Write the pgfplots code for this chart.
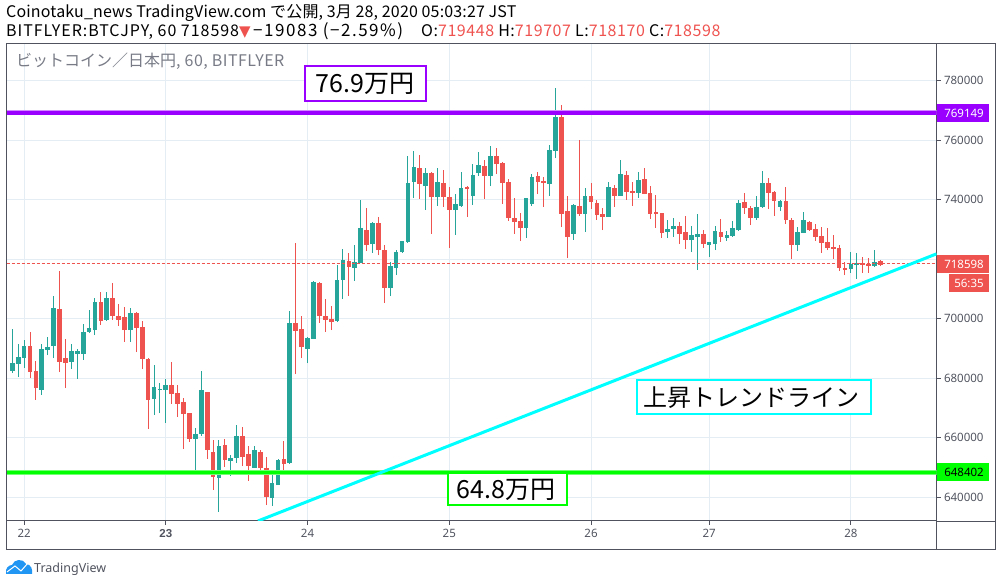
\documentclass[border=0pt]{standalone}
\usepackage{fontspec}
\setmainfont{Noto Sans}
\newfontfamily\jp{Noto Sans CJK JP}
\newfontfamily\djv{DejaVu Sans}
\newfontfamily\nsb{Liberation Sans}
\usepackage{pgfplots}
\usepackage{pgfplotstable}
\pgfplotsset{compat=1.18}
\definecolor{upc}{HTML}{26A69A}
\definecolor{dnc}{HTML}{EF5350}
\definecolor{gridc}{HTML}{E3EDF3}
\definecolor{axc}{HTML}{50535E}
\definecolor{lbl}{HTML}{787B86}
\definecolor{pur}{HTML}{9900FF}
\definecolor{grn}{HTML}{00FF00}
\definecolor{cya}{HTML}{00FFFF}
\definecolor{tv}{HTML}{2196F3}
\pgfplotstableread{
k hi lo bh bl
0 696600 681800 685100 682500
1 691500 680400 687200 684800
2 692900 683500 690900 686800
5 691500 674400 689900 676100
6 693900 687800 690500 689500
7 707700 686800 703600 690900
10 691500 683100 689200 685500
11 689900 679800 689200 688200
12 698300 686200 695600 688200
13 703000 695200 696900 695600
14 707000 694500 705600 696200
16 709000 699300 707000 699600
20 703600 692200 702000 696200
24 684500 667700 677100 673000
25 678400 668300 676400 676100
26 679800 665000 677800 676100
31 663300 648800 661300 659600
32 682500 660600 676100 661300
35 659200 635100 657200 646500
37 654200 647200 653200 652200
38 664300 651500 660600 653200
41 657200 649900 655900 649900
44 649200 637100 644800 639800
45 652900 644100 652500 644100
47 702600 651200 698600 651500
50 693900 685100 693500 689800
51 712700 693200 712400 693200
55 718100 698900 713000 699200
56 723400 706600 719700 713000
58 724800 712700 719100 717100
59 739900 718700 730500 718700
61 732500 722100 732200 725100
64 719100 707600 717700 710300
65 723100 714700 722400 717100
66 726100 722100 726100 722400
67 754700 725500 745600 725800
68 756400 740600 751000 746000
70 750700 736600 749000 744600
72 750700 737900 746000 740900
75 741900 728200 738600 736600
76 749300 737600 744000 737900
78 752000 738300 748300 741300
79 756100 748000 751700 749000
81 758100 744600 754700 748000
87 740600 727200 740600 730500
88 748700 737900 747700 738600
91 758400 741300 756700 745300
92 777600 754000 767800 756400
95 738600 726500 738300 728500
97 743900 729200 741300 735200
101 746000 734200 744300 734200
103 753400 741300 748700 741300
106 749300 740600 746600 742300
111 733200 727200 730200 729200
112 733900 727500 731200 730200
115 731200 722400 728200 726500
116 735200 716400 728500 727500
118 725800 720800 725800 724800
119 731200 723100 729500 725100
121 729500 726200 728200 727200
122 732900 727500 730500 727800
123 739900 729500 738900 729800
126 741300 733200 737600 733900
127 749700 737200 745600 737600
130 739900 736200 739600 737600
133 730900 722800 729200 724800
134 735900 728800 733200 728800
142 722500 715400 718400 716700
143 722100 713400 718700 718100
146 723100 717400 719100 717700
}\upt
\pgfplotstableread{
k hi lo bh bl
3 695600 680100 690900 682100
4 685800 672700 682500 676700
8 716100 682100 703300 685500
9 693200 676700 686800 685100
15 709000 697900 705600 699300
17 712000 699600 707000 701000
18 705000 697600 701000 699600
19 704000 692200 700600 696200
21 702300 688800 702000 696900
22 699300 683100 697200 686500
23 686800 663000 686500 672700
27 685500 671400 677800 674700
28 677800 667000 675100 671400
29 673400 656200 672000 668000
30 668300 658600 668300 659600
33 675400 652900 675400 655900
34 659200 642500 655200 646800
36 659600 650200 657600 652500
39 663600 650500 660600 653500
40 657200 645500 654600 650500
42 655900 648800 655200 649900
43 653500 637400 649900 640100
46 658900 648800 652900 651200
48 725500 681400 698600 695900
49 700900 686800 696600 690500
52 712400 698600 712000 700900
53 706600 695600 700900 699600
54 704300 696200 699900 698900
57 722100 707600 719400 717400
60 737200 722800 729800 724800
62 734200 721400 732200 723100
63 724800 705300 723100 710300
69 755000 740300 750700 745300
71 749300 728500 749000 740900
73 750000 737600 745600 740900
74 744300 723800 740900 736600
77 744600 734200 744300 743600
80 753400 740300 751400 748000
82 757400 748700 754700 752000
83 752700 738600 752400 745600
84 747000 732900 746000 733900
85 740600 728500 733900 732500
86 735600 726100 732900 730500
89 749300 741900 748000 746000
90 747700 737600 746300 745600
93 771800 730800 767800 735200
94 741300 720400 736200 727500
96 760100 734500 737900 735200
98 745600 736900 741300 739200
99 739900 733200 738900 734900
100 737200 729800 735200 734200
102 744900 737600 743900 741300
104 749700 739900 748300 742600
105 746000 737900 742900 742300
107 750700 741900 747000 741900
108 744600 733500 742300 735200
109 741600 730500 735900 735200
110 735500 727200 735500 728800
113 732500 725100 731200 728500
114 734500 723400 729200 726500
117 729900 723800 728500 725100
120 733500 725800 729200 727500
124 742300 735200 739300 737200
125 737900 731500 737200 733900
128 747300 736900 745600 742300
129 742900 734500 742600 739600
131 744300 731900 739600 733200
132 733900 720100 733200 724800
135 732900 729500 732500 729900
136 731900 726200 730200 727500
137 730900 722100 727800 725500
138 730500 723100 725800 723800
139 728200 720100 724100 723500
140 724800 716100 723800 717100
141 719100 714700 717100 716400
144 720800 715400 718700 718100
145 720400 715400 718400 717700
147 719800 717700 719400 718100
}\dnt
\newcommand{\candles}[2]{%
  \addplot[draw=none,mark=none,forget plot,error bars/.cd,y dir=plus,y explicit,error mark=none,
    error bar style={draw=#2,line width=1pt,line cap=butt}]
    table[x=k,y=lo,y error plus expr=\thisrow{hi}-\thisrow{lo}]{#1};
  \addplot[draw=none,mark=none,forget plot,error bars/.cd,y dir=plus,y explicit,error mark=none,
    error bar style={draw=#2,line width=4.7pt,line cap=butt}]
    table[x=k,y=bl,y error plus expr=\thisrow{bh}-\thisrow{bl}]{#1};
}
\begin{document}
\begin{tikzpicture}
\useasboundingbox (0,0) rectangle (1002pt,586pt);
\begin{axis}[
  at={(6.5pt,65pt)},anchor=south west,
  scale only axis,width=930pt,height=477.5pt,
  xmin=-0.98,xmax=156.5,ymin=632030,ymax=792500,
  xtick={2,26,50,74,98,118,142},
  xticklabels={22,{\nsb\bfseries 23},24,25,26,27,28},
  ytick={640000,660000,680000,700000,720000,740000,760000,780000},
  yticklabels={640000,660000,680000,700000,,740000,760000,780000},
  scaled y ticks=false,
  ytick pos=right,yticklabel pos=right,xtick pos=lower,
  tick align=outside,major tick length=4pt,
  tick style={draw=axc,line width=0.8pt},
  grid=major,major grid style={draw=gridc,line width=1pt},
  axis line style={draw=axc,line width=1pt},
  ticklabel style={font=\fontsize{11.5}{12}\selectfont,text=axc},
  xticklabel style={yshift=-1pt},
  clip=true,
]
\candles{\upt}{upc}
\candles{\dnt}{dnc}
\draw[color=dnc,line width=1pt,dash pattern=on 3pt off 2pt] (axis cs:-0.98,718598) -- (axis cs:156.5,718598);
\addplot[pur!45,line width=5pt,forget plot] coordinates {(-0.98,769149) (156.5,769149)};
\addplot[pur,line width=3.5pt,forget plot] coordinates {(-0.98,769149) (156.5,769149)};
\addplot[grn!55,line width=5pt,forget plot] coordinates {(-0.98,648402) (156.5,648402)};
\addplot[grn,line width=3.5pt,forget plot] coordinates {(-0.98,648402) (156.5,648402)};
\addplot[cya,line width=3pt,forget plot] coordinates {(41.6,632030) (156.5,721800)};
\end{axis}
\begin{scope}[x=1pt,y=-1pt,shift={(0pt,586pt)}]
% outer frame of the price and time scales
\draw[axc,line width=1pt] (936.5,43.5) -- (995.7,43.5) -- (995.7,549.3) -- (6.5,549.3) -- (6.5,521);
\draw[axc,line width=1pt] (936.5,521.3) -- (995.7,521.3);
\draw[axc,line width=1pt] (936.5,521.3) -- (936.5,549.3);
% price tags
\fill[pur] (936.5,104) rectangle (989,122);
\node[anchor=center,text=white,font=\fontsize{11.5}{12}\selectfont] at (964,113) {769149};
\fill[grn] (936.5,463.3) rectangle (989,481);
\node[anchor=center,text=black,font=\fontsize{11.5}{12}\selectfont] at (964,472) {648402};
\fill[dnc] (936.5,255) rectangle (989,273);
\node[anchor=center,text=white,font=\fontsize{11.5}{12}\selectfont] at (964,264) {718598};
\fill[dnc] (949,274) rectangle (989,292);
\node[anchor=center,text=white,font=\fontsize{11.5}{12}\selectfont] at (969,283) {56:35};
% header
\node[anchor=base west,inner sep=0pt,font=\jp\fontsize{16}{16}\selectfont\addfontfeature{LetterSpace=1}] at (6,18) {Coinotaku\_news TradingView.com で公開, 3月 28, 2020 05:03:27 JST};
\node[anchor=base west,inner sep=0pt,font=\jp\fontsize{16}{16}\selectfont\addfontfeature{LetterSpace=6}] at (6,37) {BITFLYER:BTCJPY, 60 718598{\djv\fontsize{15}{15}\selectfont\textcolor{dnc}{▼}}};
\node[anchor=base west,inner sep=0pt,font=\jp\fontsize{17}{17}\selectfont\addfontfeature{LetterSpace=9}] at (253,37) {−19083 (−2.59\%)};
\node[anchor=base west,inner sep=0pt,font=\jp\fontsize{16}{16}\selectfont\addfontfeature{LetterSpace=3.5}] at (421,37) {O:\textcolor{dnc}{719448} H:\textcolor{dnc}{719707} L:\textcolor{dnc}{718170} C:\textcolor{dnc}{718598}};
\node[anchor=base west,inner sep=0pt,text=lbl,font=\jp\fontsize{16}{16}\selectfont] at (16,67) {ビットコイン／日本円{\addfontfeature{LetterSpace=3}, 60, BITFLYER}};
% annotation boxes
\node[draw=pur,line width=2pt,fill=white,minimum width=121pt,minimum height=35pt,inner sep=0pt,font=\jp\fontsize{25}{26}\selectfont] at (365.8,84) {\hspace{-2pt}76.9万円};
\node[draw=grn,line width=2pt,fill=white,minimum width=119pt,minimum height=32pt,inner sep=0pt,font=\jp\fontsize{25}{26}\selectfont] at (507,489.5) {\hspace{-2pt}64.8万円};
\node[draw=cya,line width=2pt,fill=white,minimum width=234pt,minimum height=34pt,inner sep=0pt,font=\jp\fontsize{24}{26}\selectfont] at (753.5,397.5) {\hspace{-4pt}上昇トレンドライン};
% logo
\fill[tv] (6,574) .. controls (5,568) and (9,565) .. (12,565) .. controls (14,559) and (23,558) .. (26,564) .. controls (31,564) and (33,570) .. (32,574) -- cycle;
\draw[white,line width=1pt] (7,572) -- (15,566) -- (21,571) -- (28,563);
\node[anchor=base west,inner sep=0pt,text=axc,font=\fontsize{12.5}{13}\selectfont] at (34,572.5) {TradingView};
\end{scope}
\end{tikzpicture}
\end{document}
